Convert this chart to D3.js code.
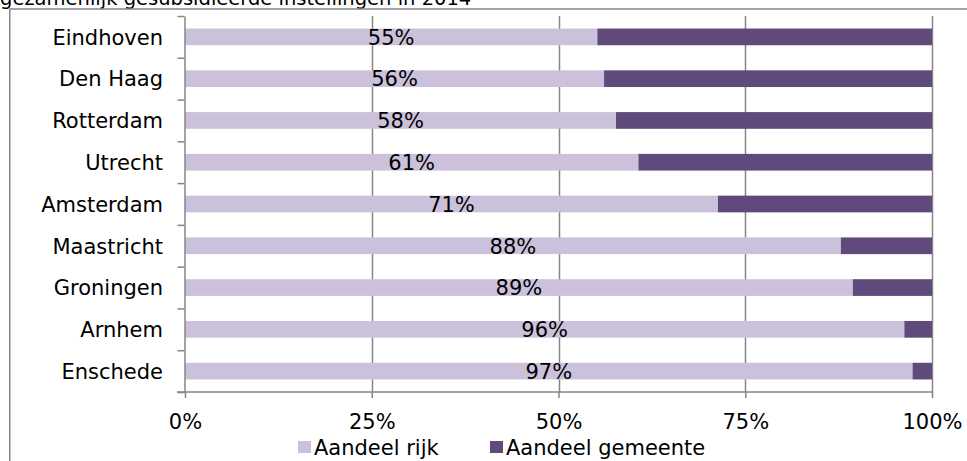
<!DOCTYPE html>
<html>
<head>
<meta charset="utf-8">
<script src="https://cdn.jsdelivr.net/npm/d3@7"></script>
<style>
  html, body { margin: 0; padding: 0; background: #fff; }
  svg { display: block; font-family: "DejaVu Sans", Verdana, sans-serif; }
</style>
</head>
<body>
<svg id="chart" width="967" height="461"></svg>
<script>
const titleText = "gezamenlijk gesubsidieerde instellingen in 2014";
const categories = ["Eindhoven", "Den Haag", "Rotterdam", "Utrecht", "Amsterdam", "Maastricht", "Groningen", "Arnhem", "Enschede"];
const aandeelRijk = [0.552, 0.561, 0.577, 0.607, 0.7135, 0.878, 0.894, 0.963, 0.974];
const aandeelGemeente = aandeelRijk.map(v => 1 - v);
const seriesNames = ["Aandeel rijk", "Aandeel gemeente"];
const xTicks = [0, 0.25, 0.5, 0.75, 1];

const colors = ["#CCC1DA", "#604A7B"];
const gridColor = "#868686";
const fontSize = 21;

const svg = d3.select("#chart");

// title (cut off at top)
svg.append("text")
  .attr("x", 0).attr("y", 5)
  .attr("font-size", 19.5).attr("fill", "#000")
  .text(titleText);

// outer frame (extends beyond the window on right/bottom)
svg.append("rect")
  .attr("x", 9.75).attr("y", 9)
  .attr("width", 1000).attr("height", 500)
  .attr("fill", "#fff").attr("stroke", gridColor).attr("stroke-width", 1.5);

const x = d3.scaleLinear().domain([0, 1]).range([185, 932]);
const y = d3.scaleBand().domain(categories).range([16, 392]).paddingInner(0.6).paddingOuter(0.3);
const yb = d3.scaleLinear().domain([0, categories.length]).range([16, 392]);

// gridlines
svg.append("g")
  .selectAll("line")
  .data(xTicks.filter(d => d > 0))
  .join("line")
  .attr("x1", d => Math.round(x(d)) + 0.5).attr("x2", d => Math.round(x(d)) + 0.5)
  .attr("y1", yb(0)).attr("y2", yb(categories.length))
  .attr("stroke", gridColor).attr("stroke-width", 1.5);

// stacked bars
const data = categories.map((c, i) => ({ cat: c, vals: [aandeelRijk[i], aandeelGemeente[i]] }));
const stackData = d3.stack().keys([0, 1]).value((d, k) => d.vals[k])(data);

svg.append("g")
  .selectAll("g")
  .data(stackData)
  .join("g")
  .attr("fill", (d, i) => colors[i])
  .selectAll("rect")
  .data(d => d)
  .join("rect")
  .attr("x", d => x(d[0]))
  .attr("width", d => x(d[1]) - x(d[0]))
  .attr("y", d => y(d.data.cat))
  .attr("height", y.bandwidth());

// data labels (centered on light segment)
svg.append("g")
  .selectAll("text")
  .data(data)
  .join("text")
  .attr("x", d => (x(0) + x(d.vals[0])) / 2)
  .attr("y", d => y(d.cat) + y.bandwidth() / 2 + 7.8)
  .attr("text-anchor", "middle")
  .attr("font-size", fontSize).attr("fill", "#000")
  .text(d => d3.format(".0%")(d.vals[0]));

// y axis (ticks at category boundaries)
const yAxis = svg.append("g")
  .attr("transform", `translate(${x(0) - 0.5},0)`)
  .call(d3.axisLeft(yb).ticks(categories.length).tickSize(7).tickSizeOuter(0).tickFormat(""));
yAxis.selectAll("path, line").attr("stroke", gridColor).attr("stroke-width", 1.5);

// category labels
svg.append("g")
  .selectAll("text")
  .data(categories)
  .join("text")
  .attr("x", 163)
  .attr("y", d => y(d) + y.bandwidth() / 2 + 7.8)
  .attr("text-anchor", "end")
  .attr("font-size", fontSize).attr("fill", "#000")
  .text(d => d);

// x axis
const xAxis = svg.append("g")
  .attr("transform", `translate(0,${yb(categories.length)})`)
  .call(d3.axisBottom(x).tickValues(xTicks).tickSize(6).tickSizeOuter(0).tickPadding(16).tickFormat(d3.format(".0%")));
xAxis.select(".domain").attr("stroke", gridColor).attr("stroke-width", 1.5)
  .attr("d", `M${x(0) - 8},0H${x(1)}`);
xAxis.selectAll(".tick line").attr("stroke", gridColor).attr("stroke-width", 1.5);
xAxis.selectAll("text").attr("font-size", fontSize).attr("fill", "#000")
  .attr("font-family", "DejaVu Sans, Verdana, sans-serif");

// legend
const legendX = [298, 490];
const legend = svg.append("g")
  .selectAll("g")
  .data(seriesNames)
  .join("g")
  .attr("transform", (d, i) => `translate(${legendX[i]},441)`);
legend.append("rect").attr("width", 13).attr("height", 12).attr("fill", (d, i) => colors[i]);
legend.append("text")
  .attr("x", 16).attr("y", 13.5)
  .attr("font-size", fontSize).attr("fill", "#000")
  .text(d => d);
</script>
</body>
</html>
